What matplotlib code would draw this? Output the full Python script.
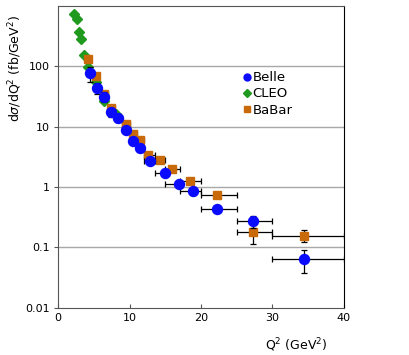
import matplotlib
matplotlib.use("Agg")
import matplotlib.pyplot as plt
from matplotlib.ticker import FixedLocator, NullLocator

# Belle (blue circles)
belle_q2 = [4.48, 5.5, 6.48, 7.41, 8.44, 9.46, 10.49, 11.47, 12.9, 14.9, 16.9, 18.9, 22.3, 27.3, 34.45]
belle_lo = [4.0, 5.0, 6.0, 7.0, 8.0, 9.0, 10.0, 11.0, 12.0, 13.5, 15.0, 17.0, 20.0, 25.0, 30.0]
belle_hi = [5.0, 6.0, 7.0, 8.0, 9.0, 10.0, 11.0, 12.0, 13.5, 15.0, 17.0, 20.0, 25.0, 30.0, 40.0]
belle_y = [75.7, 43.7, 31.0, 17.5, 13.9, 8.7, 5.77, 4.48, 2.66, 1.73, 1.10, 0.845, 0.436, 0.269, 0.0646]
belle_dy = [21.0, 9.0, 6.0, 3.0, 2.0, 1.0, 0.6, 0.4, 0.25, 0.15, 0.12, 0.1, 0.05, 0.058, 0.027]

# CLEO (green diamonds)
cleo_q2 = [2.24, 2.6, 2.9, 3.22, 3.68, 4.24, 5.27, 6.4, 8.1]
cleo_y = [728, 603, 362, 277, 152, 97, 55, 26, 16.4]

# BaBar (orange squares)
babar_q2 = [4.24, 5.27, 6.48, 7.41, 9.51, 10.5, 11.5, 12.63, 14.2, 15.9, 18.4, 22.3, 27.3, 34.4]
babar_lo = [4.0, 5.0, 6.0, 7.0, 9.0, 10.0, 11.0, 12.0, 13.5, 15.0, 17.0, 20.0, 25.0, 30.0]
babar_hi = [4.5, 5.5, 7.0, 8.0, 10.0, 11.0, 12.0, 13.5, 15.0, 17.0, 20.0, 25.0, 30.0, 40.0]
babar_y = [129, 68, 35, 19.9, 11.2, 7.65, 5.93, 3.35, 2.84, 1.96, 1.25, 0.726, 0.179, 0.156]
babar_dy = [8.0, 4.0, 2.0, 1.0, 0.6, 0.4, 0.3, 0.2, 0.15, 0.12, 0.08, 0.05, 0.065, 0.035]

xticks = [0, 10, 20, 30, 40]
yticks = [0.01, 0.1, 1, 10, 100]
ytick_labels = ["0.01", "0.1", "1", "10", "100"]

blue = "#0a0aff"
green = "#1f9a1f"
orange = "#c8690a"

fig = plt.figure(figsize=(4.09, 3.55), dpi=100)
ax = fig.add_axes([0.142, 0.133, 0.699, 0.851])

ax.set_yscale("log")
ax.set_xlim(0, 40)
ax.set_ylim(0.01, 1000)

for yy in [0.1, 1, 10, 100]:
    ax.axhline(yy, color="#a8a8a8", lw=1.0, zorder=0)


def xerr_of(x, lo, hi):
    return [[a - b for a, b in zip(x, lo)], [c - a for a, c in zip(x, hi)]]


ax.plot(cleo_q2, cleo_y, ls="none", marker="D", ms=5, color=green, mec=green, zorder=3)
ax.errorbar(babar_q2, babar_y, xerr=xerr_of(babar_q2, babar_lo, babar_hi), yerr=babar_dy,
            fmt="s", ms=6, color=orange, mec=orange, ecolor="black", elinewidth=0.9,
            capsize=2, capthick=0.9, zorder=4)
ax.errorbar(belle_q2, belle_y, xerr=xerr_of(belle_q2, belle_lo, belle_hi), yerr=belle_dy,
            fmt="o", ms=7.2, color=blue, mec=blue, ecolor="black", elinewidth=0.9,
            capsize=2, capthick=0.9, zorder=5)

h1, = ax.plot([], [], "o", color=blue, ms=5)
h2, = ax.plot([], [], "D", color=green, ms=4)
h3, = ax.plot([], [], "s", color=orange, ms=5)
ax.legend([h1, h2, h3], ["Belle", "CLEO", "BaBar"], loc="upper left",
          bbox_to_anchor=(0.625, 0.805), frameon=False, fontsize=9.5,
          handlelength=0.5, handletextpad=0.2, labelspacing=0.25, borderpad=0)

ax.xaxis.set_major_locator(FixedLocator(xticks))
ax.set_xticklabels([str(t) for t in xticks], fontsize=8)
ax.yaxis.set_major_locator(FixedLocator(yticks))
ax.yaxis.set_minor_locator(NullLocator())
ax.set_yticklabels(ytick_labels, fontsize=8)
ax.tick_params(axis="x", direction="in", length=3, pad=4, color="#555555")
ax.tick_params(axis="y", direction="out", length=3, pad=3, color="#555555")

for side in ["left", "bottom", "top"]:
    ax.spines[side].set_color("#555555")
ax.spines["right"].set_color("black")

fig.text(296 / 409, 1 - 345 / 355, r"Q$^2$ (GeV$^2$)", ha="center", va="center", fontsize=9)
fig.text(15 / 409, 1 - 68 / 355, r"d$\sigma$/dQ$^2$ (fb/GeV$^2$)", ha="center", va="center",
         rotation=90, fontsize=9)

fig.savefig("out.png", dpi=100)
